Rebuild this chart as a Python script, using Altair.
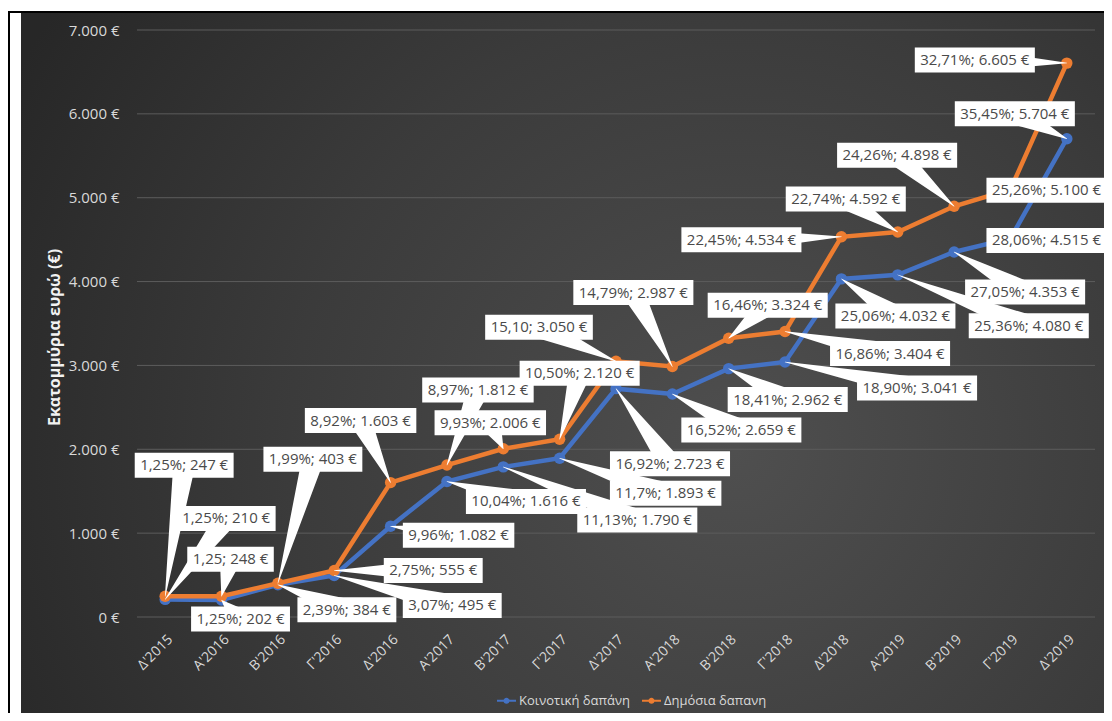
import altair as alt
import pandas as pd

categories = ["Δ'2015", "Α'2016", "Β'2016", "Γ'2016", "Δ'2016", "Α'2017", "Β'2017", "Γ'2017",
              "Δ'2017", "Α'2018", "Β'2018", "Γ'2018", "Δ'2018", "Α'2019", "Β'2019", "Γ'2019", "Δ'2019"]
series_names = ["Κοινοτική δαπάνη", "Δημόσια δαπανη"]
series_colors = ["#4472C4", "#ED7D31"]
y_ticks = [0, 1000, 2000, 3000, 4000, 5000, 6000, 7000]

community = [210, 202, 384, 495, 1082, 1616, 1790, 1893, 2723, 2659, 2962, 3041, 4032, 4080, 4353, 4515, 5704]
public = [247, 248, 403, 555, 1603, 1812, 2006, 2120, 3050, 2987, 3324, 3404, 4534, 4592, 4898, 5100, 6605]

community_labels = ["1,25%; 210 €", "1,25%; 202 €", "2,39%; 384 €", "3,07%; 495 €", "9,96%; 1.082 €",
                    "10,04%; 1.616 €", "11,13%; 1.790 €", "11,7%; 1.893 €", "16,92%; 2.723 €",
                    "16,52%; 2.659 €", "18,41%; 2.962 €", "18,90%; 3.041 €", "25,06%; 4.032 €",
                    "25,36%; 4.080 €", "27,05%; 4.353 €", "28,06%; 4.515 €", "35,45%; 5.704 €"]
public_labels = ["1,25%; 247 €", "1,25; 248 €", "1,99%; 403 €", "2,75%; 555 €", "8,92%; 1.603 €",
                 "8,97%; 1.812 €", "9,93%; 2.006 €", "10,50%; 2.120 €", "15,10; 3.050 €",
                 "14,79%; 2.987 €", "16,46%; 3.324 €", "16,86%; 3.404 €", "22,45%; 4.534 €",
                 "22,74%; 4.592 €", "24,26%; 4.898 €", "25,26%; 5.100 €", "32,71%; 6.605 €"]

# callout layout: pixel offset of each label box centre from its point
community_offsets = [(61, -81), (19, 19), (69, 25), (118, 30), (68, 9), (79, 20), (134, 53), (106, 35),
                     (54, 75), (69, 36), (59, 31), (132, 26), (54, 37), (131, 51), (71, 40), (36, 2), (-52, -25)]
public_offsets = [(19, -131), (9, -37), (35, -124), (99, 0), (-30, -62), (31, -75), (-13, -26), (20, -66),
                  (-77, -34), (-39, -74), (39, -33), (105, 22), (-100, 3), (-52, -33), (-57, -51), (36, 1), (-92, -3)]

W, H = 958, 587
YMAX = 7000
PX_X = W / len(categories)
PX_Y = H / YMAX
FONT = "Open Sans"
LBL_SIZE = 15
EM = {",": .245, ".": .266, ";": .266, " ": .26, "%": .825, "€": .572}


def text_px(s):
    return sum(EM.get(c, .572) for c in s) * LBL_SIZE


rows, boxes, trails = [], [], []
for s, vals, labs, offs in [(series_names[0], community, community_labels, community_offsets),
                            (series_names[1], public, public_labels, public_offsets)]:
    for i, (v, lab, (dx, dy)) in enumerate(zip(vals, labs, offs)):
        rows.append({"idx": i, "value": v, "series": s})
        lx = i + dx / PX_X
        ly = v - dy / PX_Y
        bw = (text_px(lab) + 11) / 2 / PX_X
        bh = 12.5 / PX_Y
        boxes.append({"series": s, "label": lab, "lx": lx, "ly": ly,
                      "x1": lx - bw, "x2": lx + bw, "y1": ly - bh, "y2": ly + bh})
        cid = f"{s}-{i}"
        trails.append({"cid": cid, "tx": i, "ty": v, "w": 0.5, "o": 0})
        trails.append({"cid": cid, "tx": lx, "ty": ly, "w": 22, "o": 1})

df = pd.DataFrame(rows)
bdf = pd.DataFrame(boxes)
tdf = pd.DataFrame(trails)
gdf = pd.DataFrame({"tick": y_ticks})

label_expr = "[" + ",".join(f'"{c}"' for c in categories) + "][datum.value]"
xscale = alt.Scale(domain=[-0.5, len(categories) - 0.5], nice=False, zero=False)
yscale = alt.Scale(domain=[0, YMAX], nice=False)
xaxis = alt.Axis(values=list(range(len(categories))), labelExpr=label_expr, labelAngle=-45,
                 labelFont=FONT, labelFontSize=14, labelColor="#d9d9d9", labelPadding=15,
                 labelOverlap=False, labelFlush=False, domain=False, ticks=False, grid=False,
                 title=None, zindex=1)
yaxis = alt.Axis(values=y_ticks,
                 labelExpr="replace(format(datum.value, ','), ',', '.') + ' €'",
                 labelFont=FONT, labelFontSize=15, labelColor="#d9d9d9", labelPadding=18,
                 domain=False, ticks=False, grid=False, zindex=1,
                 title="Εκατομμύρια ευρώ (€)", titleFont=FONT, titleFontSize=16, titleFontWeight="bold",
                 titleColor="#f2f2f2", titleAngle=-90, titleX=-83, titleY=307,
                 titleAlign="center", titleBaseline="middle")

bg_df = pd.DataFrame({"k": [0]})
background = alt.Chart(bg_df).mark_rect(
    fill=alt.Gradient(gradient="radial",
                      stops=[alt.GradientStop(color="#4f4f4f", offset=0),
                             alt.GradientStop(color="#3b3b3b", offset=0.55),
                             alt.GradientStop(color="#272727", offset=1)],
                      x1=0.66, y1=0.58, x2=0.66, y2=0.58, r1=0, r2=0.75)
).encode(x=alt.value(-116), x2=alt.value(967), y=alt.value(-17), y2=alt.value(683))

frame_v = alt.Chart(bg_df).mark_rule(color="black", strokeWidth=2).encode(
    x=alt.value(-128), y=alt.value(-19), y2=alt.value(683))
frame_h = alt.Chart(bg_df).mark_rule(color="black", strokeWidth=2).encode(
    x=alt.value(-129), x2=alt.value(967), y=alt.value(-18))

grid = alt.Chart(gdf).mark_rule(color="#5c5c5c", strokeWidth=1).encode(
    y=alt.Y("tick:Q", scale=yscale, axis=yaxis),
    x=alt.value(0), x2=alt.value(W))

symbol_path = ("M-1,-0.1L1,-0.1L1,0.1L-1,0.1Z "
               "M-0.32,0A0.32,0.32 0 1,1 0.32,0A0.32,0.32 0 1,1 -0.32,0Z")
color = alt.Color("series:N", scale=alt.Scale(domain=series_names, range=series_colors),
                  legend=alt.Legend(orient="none", legendX=360, legendY=661, direction="horizontal",
                                    title=None, labelColor="#d9d9d9", labelFont=FONT, labelFontSize=13,
                                    symbolType=symbol_path, symbolSize=361, symbolStrokeWidth=0,
                                    columnPadding=12, labelOffset=3))

layers = [background, frame_v, frame_h, grid]
for name in series_names:
    base = alt.Chart(df).transform_filter(alt.datum.series == name)
    layers.append(base.mark_circle(size=130, opacity=1).encode(
        x=alt.X("idx:Q", scale=xscale, axis=xaxis),
        y=alt.Y("value:Q", scale=yscale, axis=yaxis),
        color=color))
    layers.append(base.mark_line(strokeWidth=4.5).encode(
        x=alt.X("idx:Q", scale=xscale, axis=xaxis),
        y=alt.Y("value:Q", scale=yscale, axis=yaxis),
        color=color))

callouts = alt.Chart(tdf).mark_trail(color="white").encode(
    x=alt.X("tx:Q", scale=xscale, axis=xaxis),
    y=alt.Y("ty:Q", scale=yscale, axis=yaxis),
    size=alt.Size("w:Q", scale=None, legend=None),
    detail="cid:N",
    order="o:Q")
box_rects = alt.Chart(bdf).mark_rect(fill="white").encode(
    x=alt.X("x1:Q", scale=xscale, axis=xaxis), x2="x2:Q",
    y=alt.Y("y1:Q", scale=yscale, axis=yaxis), y2="y2:Q")
box_text = alt.Chart(bdf).mark_text(font=FONT, fontSize=LBL_SIZE, color="#4a4a4a",
                                    align="center", baseline="middle").encode(
    x=alt.X("lx:Q", scale=xscale, axis=xaxis),
    y=alt.Y("ly:Q", scale=yscale, axis=yaxis),
    text="label:N")

layers += [callouts, box_rects, box_text]

chart = alt.layer(*layers).properties(
    width=W, height=H,
    background="white",
    padding={"left": 129, "top": 22, "right": 9, "bottom": 96},
    autosize=alt.AutoSizeParams(type="none"),
).configure_view(stroke=None)

chart.save("out.html", embed_options={"renderer": "svg", "actions": False})
